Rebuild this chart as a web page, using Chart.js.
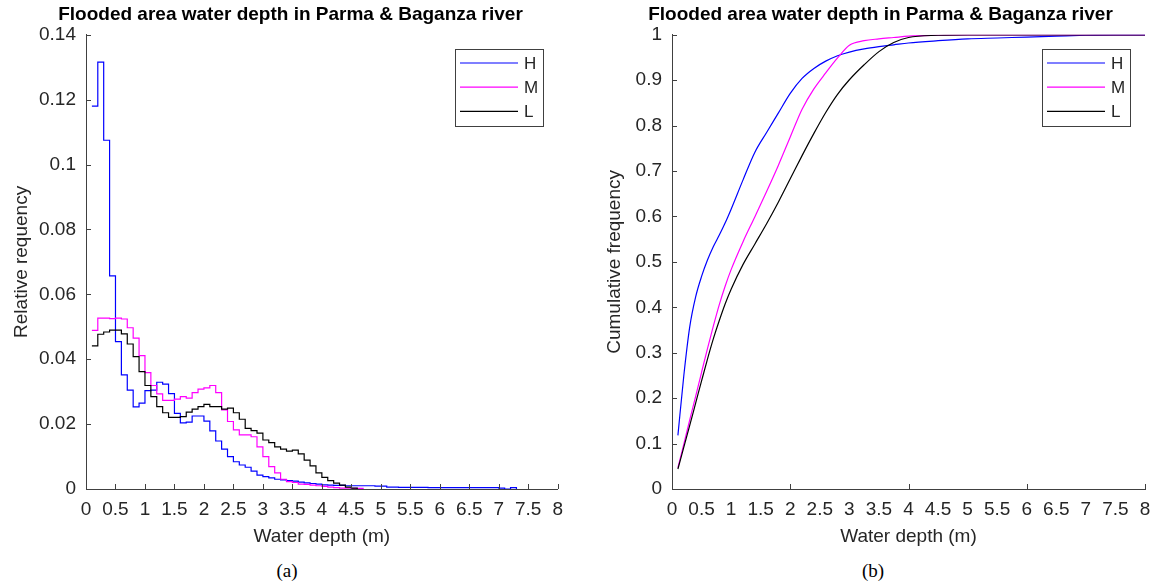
<!DOCTYPE html>
<html>
<head>
<meta charset="utf-8">
<script src="https://cdn.jsdelivr.net/npm/chart.js@4.4.1/dist/chart.umd.min.js"></script>
<style>
  html, body { margin: 0; padding: 0; background: #fff; overflow: hidden; }
  body { width: 1175px; height: 585px; position: relative; }
  canvas { position: absolute; top: 0; }
  #hist { left: 0; }
  #cdf { left: 590px; }
  .caption {
    position: absolute; top: 560px; transform: translateX(-50%);
    font: 19px "Liberation Serif", "Times New Roman", serif; color: #000;
  }
</style>
</head>
<body>
<canvas id="hist" width="572" height="560"></canvas>
<canvas id="cdf" width="585" height="560"></canvas>
<div class="caption" style="left:287px">(a)</div>
<div class="caption" style="left:873px">(b)</div>

<script>
// depth class lower edges (m), 0.1 m bins
const depthBins = [
  0.1, 0.2, 0.3, 0.4, 0.5, 0.6, 0.7, 0.8, 0.9, 1.0,
  1.1, 1.2, 1.3, 1.4, 1.5, 1.6, 1.7, 1.8, 1.9, 2.0,
  2.1, 2.2, 2.3, 2.4, 2.5, 2.6, 2.7, 2.8, 2.9, 3.0,
  3.1, 3.2, 3.3, 3.4, 3.5, 3.6, 3.7, 3.8, 3.9, 4.0,
  4.1, 4.2, 4.3, 4.4, 4.5, 4.6, 4.7, 4.8, 4.9, 5.0,
  5.1, 5.2, 5.3, 5.4, 5.5, 5.6, 5.7, 5.8, 5.9, 6.0,
  6.1, 6.2, 6.3, 6.4, 6.5, 6.6, 6.7, 6.8, 6.9, 7.0,
  7.1, 7.2, 7.3
];

// relative frequency per bin
const relFreqH = [
  0.1180, 0.1316, 0.1075, 0.0657, 0.0454, 0.0352, 0.0305, 0.0253, 0.0265, 0.0303,
  0.0305, 0.0329, 0.0323, 0.0294, 0.0233, 0.0204, 0.0206, 0.0225, 0.0225, 0.0209,
  0.0179, 0.0148, 0.0123, 0.0100, 0.0084, 0.0074, 0.0067, 0.0055, 0.0043, 0.0038,
  0.0034, 0.0030, 0.0028, 0.0026, 0.0024, 0.0021, 0.0019, 0.0017, 0.0015, 0.0013,
  0.0012, 0.0011, 0.0011, 0.0010, 0.0010, 0.0010, 0.0010, 0.0010, 0.0009, 0.0009,
  0.0006, 0.0006, 0.0005, 0.0005, 0.0005, 0.0005, 0.0005, 0.0004, 0.0004, 0.0004,
  0.0004, 0.0004, 0.0004, 0.0004, 0.0004, 0.0004, 0.0004, 0.0004, 0.0004, 0.0003,
  0.0000, 0.0004, 0.0000
];
const relFreqM = [
  0.0489, 0.0527, 0.0527, 0.0525, 0.0527, 0.0524, 0.0497, 0.0465, 0.0411, 0.0359,
  0.0319, 0.0293, 0.0273, 0.0273, 0.0277, 0.0285, 0.0280, 0.0297, 0.0308, 0.0312,
  0.0319, 0.0297, 0.0244, 0.0208, 0.0182, 0.0167, 0.0167, 0.0161, 0.0130, 0.0100,
  0.0069, 0.0050, 0.0030, 0.0023, 0.0020, 0.0015, 0.0014, 0.0012, 0.0010, 0.0008,
  0.0006, 0.0004, 0.0003, 0.0003, 0.0002, 0.0002, 0.0000
];
const relFreqL = [
  0.0441, 0.0477, 0.0484, 0.0490, 0.0490, 0.0478, 0.0447, 0.0408, 0.0362, 0.0319,
  0.0285, 0.0254, 0.0235, 0.0221, 0.0221, 0.0223, 0.0237, 0.0246, 0.0254, 0.0261,
  0.0254, 0.0254, 0.0246, 0.0249, 0.0235, 0.0215, 0.0187, 0.0180, 0.0172, 0.0151,
  0.0143, 0.0130, 0.0123, 0.0117, 0.0120, 0.0108, 0.0089, 0.0071, 0.0050, 0.0036,
  0.0026, 0.0018, 0.0012, 0.0006, 0.0003, 0.0000
];

// cumulative curves
const cdfDepth = [
  0.1, 0.2, 0.3, 0.4, 0.5, 0.6, 0.7, 0.8, 0.9, 1.0,
  1.2, 1.4, 1.6, 1.8, 2.0, 2.2, 2.4, 2.6, 2.8, 3.0,
  3.25, 3.5, 3.75, 4.0, 4.5, 5.0, 5.5, 6.0, 6.5, 7.0, 7.5, 8.0
];
const cumFreqH = [
  0.118, 0.250, 0.357, 0.423, 0.468, 0.504, 0.534, 0.559, 0.586, 0.616,
  0.680, 0.741, 0.785, 0.828, 0.871, 0.904, 0.926, 0.942, 0.954, 0.962,
  0.969, 0.974, 0.978, 0.982, 0.987, 0.991, 0.993, 0.995, 0.997, 0.999, 1.000, 1.000
];
const cumFreqM = [
  0.047, 0.099, 0.152, 0.204, 0.257, 0.309, 0.359, 0.406, 0.447, 0.483,
  0.544, 0.599, 0.655, 0.713, 0.775, 0.836, 0.881, 0.916, 0.949, 0.977,
  0.987, 0.991, 0.994, 0.997, 0.999, 1.000, 1.000, 1.000, 1.000, 1.000, 1.000, 1.000
];
const cumFreqL = [
  0.044, 0.092, 0.140, 0.189, 0.238, 0.286, 0.331, 0.371, 0.408, 0.440,
  0.494, 0.539, 0.584, 0.632, 0.683, 0.734, 0.783, 0.829, 0.869, 0.901,
  0.934, 0.963, 0.983, 0.994, 0.999, 1.000, 1.000, 1.000, 1.000, 1.000, 1.000, 1.000
];

const seriesLabels = ['H', 'M', 'L'];
const seriesColors = ['#0000ff', '#ff00ff', '#000000'];
const chartTitle = 'Flooded area water depth in Parma & Baganza river';

const FONT = '"Liberation Sans", Arial, Helvetica, sans-serif';
const INK = '#262626';
const AXIS = '#404040';

const toPoints = (xs, ys) => ys.map((y, i) => ({ x: xs[i], y }));
// 0.1 -> "0.1", 1 -> "1" (no padded decimals)
const plainNumber = v => String(Math.round(v * 100) / 100);

// MATLAB-style tick marks pointing into the plot
const innerTicks = {
  id: 'innerTicks',
  afterDraw(chart, args, opts) {
    const { ctx, chartArea: a, scales: { x, y } } = chart;
    const len = opts.len || 5;
    ctx.save();
    ctx.strokeStyle = AXIS;
    ctx.lineWidth = 1;
    ctx.beginPath();
    x.ticks.forEach(t => {
      if (opts.xEvery) {
        const r = t.value / opts.xEvery;
        if (Math.abs(r - Math.round(r)) > 1e-6) return;
      }
      const px = Math.round(x.getPixelForValue(t.value)) + 0.5;
      ctx.moveTo(px, a.bottom);
      ctx.lineTo(px, a.bottom - len);
    });
    y.ticks.forEach(t => {
      const py = Math.round(y.getPixelForValue(t.value)) + 0.5;
      ctx.moveTo(a.left, py);
      ctx.lineTo(a.left + len, py);
    });
    ctx.stroke();
    ctx.restore();
  }
};

// nudge the chart title sideways after layout
const titleShift = {
  id: 'titleShift',
  afterLayout(chart, args, opts) {
    const t = chart.titleBlock;
    if (t && opts.dx) {
      t.left += opts.dx;
      t.right += opts.dx;
    }
  }
};

// boxed legend in the upper right corner of the axes
const boxLegend = {
  id: 'boxLegend',
  afterDraw(chart, args, o) {
    const { ctx, chartArea: a } = chart;
    const left = Math.round(a.right - o.right - o.width);
    const top = Math.round(a.top + o.top);
    ctx.save();
    ctx.fillStyle = '#fff';
    ctx.fillRect(left, top, o.width, o.height);
    ctx.strokeStyle = AXIS;
    ctx.lineWidth = 1;
    ctx.strokeRect(left + 0.5, top + 0.5, o.width, o.height);
    ctx.font = o.fontSize + 'px ' + FONT;
    ctx.textBaseline = 'middle';
    ctx.textAlign = 'left';
    chart.data.datasets.forEach((ds, i) => {
      const yy = top + o.firstRow + i * o.rowGap;
      ctx.strokeStyle = ds.borderColor;
      ctx.lineWidth = ds.borderWidth;
      ctx.beginPath();
      ctx.moveTo(left + o.lineInset, yy);
      ctx.lineTo(left + o.lineInset + o.lineLen, yy);
      ctx.stroke();
      ctx.fillStyle = INK;
      ctx.fillText(ds.label, left + o.textInset, yy + 1);
    });
    ctx.restore();
  }
};

const legendOpts = {
  right: 15, top: 14.5, width: 88, height: 77,
  lineInset: 5, lineLen: 58, textInset: 69,
  firstRow: 14, rowGap: 24.2, fontSize: 17
};

function axisOptions(min, max, step, titleText, titlePad, fixed, isX) {
  return {
    type: 'linear',
    min, max,
    border: { display: true, color: AXIS, width: 1 },
    grid: { drawOnChartArea: false, drawTicks: false },
    ticks: {
      stepSize: step,
      autoSkip: false,
      maxRotation: 0,
      minRotation: 0,
      padding: isX ? 9 : 10,
      color: INK,
      font: { family: FONT, size: 19 },
      callback: plainNumber
    },
    title: {
      display: true,
      text: titleText,
      color: INK,
      font: { family: FONT, size: 19 },
      padding: titlePad
    },
    afterFit(scale) {
      if (isX) scale.height = fixed; else scale.width = fixed;
    }
  };
}

function baseOptions(xTitle, yTitle, yMax, yStep, yAxisWidth, yTitlePad, rightPad, tickOpts, titleDx) {
  return {
    responsive: false,
    animation: false,
    layout: { padding: { left: 0, right: rightPad, top: 0, bottom: 0 } },
    scales: {
      x: axisOptions(0, 8, 0.5, xTitle, { top: 0, bottom: 11.5 }, 71, true),
      y: axisOptions(0, yMax, yStep, yTitle, { top: yTitlePad, bottom: 0 }, yAxisWidth, false)
    },
    plugins: {
      legend: { display: false },
      tooltip: { enabled: false },
      title: {
        display: true,
        text: chartTitle,
        color: '#000',
        font: { family: FONT, size: 19, weight: 'bold' },
        padding: { top: 3, bottom: 9 }
      },
      titleShift: { dx: titleDx },
      innerTicks: tickOpts,
      boxLegend: legendOpts
    }
  };
}

// (a) histogram drawn as stairs
new Chart(document.getElementById('hist'), {
  type: 'line',
  data: {
    datasets: [relFreqH, relFreqM, relFreqL].map((vals, i) => ({
      label: seriesLabels[i],
      data: toPoints(depthBins, vals),
      borderColor: seriesColors[i],
      borderWidth: 1.2,
      stepped: 'before',
      pointRadius: 0,
      fill: false,
      order: 3 - i
    }))
  },
  options: baseOptions('Water depth (m)', 'Relative requency', 0.14, 0.02, 86, 10, 13, { len: 5 }, 11),
  plugins: [innerTicks, titleShift, boxLegend]
});

// (b) cumulative frequency
new Chart(document.getElementById('cdf'), {
  type: 'line',
  data: {
    datasets: [cumFreqH, cumFreqM, cumFreqL].map((vals, i) => ({
      label: seriesLabels[i],
      data: toPoints(cdfDepth, vals),
      borderColor: seriesColors[i],
      borderWidth: 1.2,
      cubicInterpolationMode: 'monotone',
      pointRadius: 0,
      fill: false,
      order: 3 - i
    }))
  },
  options: baseOptions('Water depth (m)', 'Cumulative frequency', 1, 0.1, 82, 13, 30, { len: 5, xEvery: 2 }, 13),
  plugins: [innerTicks, titleShift, boxLegend]
});
</script>
</body>
</html>
